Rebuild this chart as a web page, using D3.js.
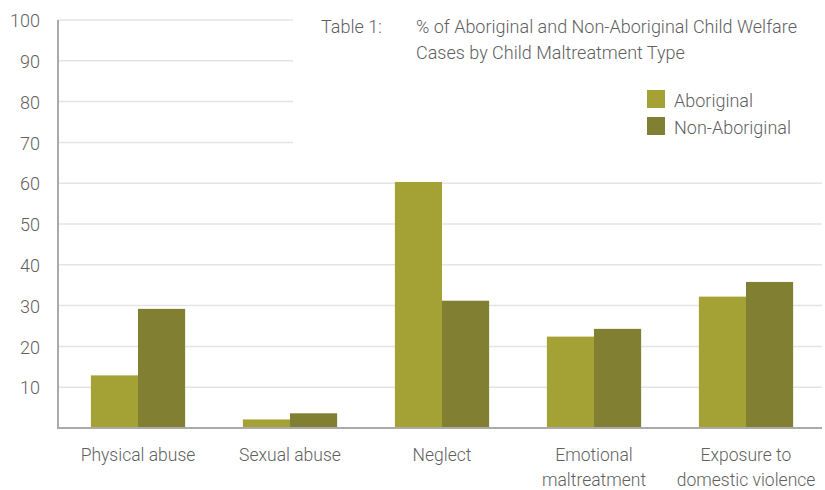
<!DOCTYPE html>
<html>
<head>
<meta charset="utf-8">
<script src="https://cdn.jsdelivr.net/npm/d3@7"></script>
<style>
  body { margin: 0; background: #fff; }
  svg text { font-family: Roboto, "Open Sans", sans-serif; font-weight: 300; fill: #5f5f5f; }
</style>
</head>
<body>
<div id="chart"></div>
<script>
const categories = [
  ["Physical abuse"],
  ["Sexual abuse"],
  ["Neglect"],
  ["Emotional", "maltreatment"],
  ["Exposure to", "domestic violence"]
];
const seriesNames = ["Aboriginal", "Non-Aboriginal"];
const aboriginal = [12.9, 2.1, 60.3, 22.4, 32.2];
const nonAboriginal = [29.2, 3.6, 31.2, 24.3, 35.8];
const yTicks = [10, 20, 30, 40, 50, 60, 70, 80, 90, 100];
const titleLabel = "Table 1:";
const titleLines = ["% of Aboriginal and Non-Aboriginal Child Welfare", "Cases by Child Maltreatment Type"];

const W = 825, H = 490;
const colors = { "Aboriginal": "#a5a235", "Non-Aboriginal": "#807f32" };

const svg = d3.select("#chart").append("svg")
  .attr("width", W).attr("height", H);

const plot = { left: 58, right: 822, top: 20, bottom: 428 };

const x0 = d3.scaleBand()
  .domain(d3.range(categories.length))
  .range([62, plot.right])
  .paddingInner(0.38)
  .paddingOuter(0.19);

const x1 = d3.scaleBand()
  .domain(seriesNames)
  .range([0, x0.bandwidth()]);

const y = d3.scaleLinear().domain([0, 100]).range([plot.bottom, plot.top]);

// gridlines
svg.append("g")
  .selectAll("line")
  .data(yTicks)
  .join("line")
  .attr("x1", plot.left).attr("x2", plot.right)
  .attr("y1", d => y(d)).attr("y2", d => y(d))
  .attr("stroke", "#e4e4e4")
  .attr("stroke-width", 1.5);

// title panel covers the top gridlines
svg.append("rect")
  .attr("x", 293).attr("y", 0)
  .attr("width", W - 293).attr("height", 162)
  .attr("fill", "#fff");

// y tick labels
svg.append("g")
  .selectAll("text")
  .data(yTicks)
  .join("text")
  .attr("x", 40)
  .attr("y", d => y(d))
  .attr("dy", "0.4em")
  .attr("text-anchor", "end")
  .attr("font-size", 18)
  .text(d => d);

// bars
const rows = categories.map((c, i) => ({ i, values: [aboriginal[i], nonAboriginal[i]] }));
const group = svg.append("g")
  .selectAll("g")
  .data(rows)
  .join("g")
  .attr("transform", d => `translate(${x0(d.i)},0)`);

group.selectAll("rect")
  .data(d => d.values.map((v, k) => ({ key: seriesNames[k], value: v })))
  .join("rect")
  .attr("x", d => x1(d.key))
  .attr("y", d => y(d.value))
  .attr("width", x1.bandwidth())
  .attr("height", d => y(0) - y(d.value))
  .attr("fill", d => colors[d.key]);

// axes lines
svg.append("line")
  .attr("x1", plot.left).attr("x2", plot.left)
  .attr("y1", plot.top).attr("y2", plot.bottom + 1)
  .attr("stroke", "#aaa").attr("stroke-width", 2);
svg.append("line")
  .attr("x1", plot.left - 1).attr("x2", plot.right)
  .attr("y1", plot.bottom).attr("y2", plot.bottom)
  .attr("stroke", "#aaa").attr("stroke-width", 2);

// category labels
const lab = svg.append("g")
  .selectAll("text")
  .data(categories)
  .join("text")
  .attr("text-anchor", "middle")
  .attr("font-size", 17.5)
  .attr("x", (d, i) => x0(i) + x0.bandwidth() / 2)
  .attr("y", 461);
lab.selectAll("tspan")
  .data(d => d)
  .join("tspan")
  .attr("x", function() { return d3.select(this.parentNode).attr("x"); })
  .attr("dy", (d, k) => k === 0 ? 0 : 25)
  .text(d => d);

// title
svg.append("text")
  .attr("x", 321).attr("y", 33)
  .attr("font-size", 18)
  .text(titleLabel);
svg.append("text")
  .attr("x", 416).attr("y", 33)
  .attr("font-size", 18)
  .selectAll("tspan")
  .data(titleLines)
  .join("tspan")
  .attr("x", 416)
  .attr("dy", (d, k) => k === 0 ? 0 : 26)
  .text(d => d);

// legend
const legend = svg.append("g")
  .attr("transform", "translate(647,90)")
  .selectAll("g")
  .data(seriesNames)
  .join("g")
  .attr("transform", (d, i) => `translate(0,${i * 27})`);
legend.append("rect")
  .attr("width", 18).attr("height", 18)
  .attr("fill", d => colors[d]);
legend.append("text")
  .attr("x", 27).attr("y", 10)
  .attr("dy", "0.38em")
  .attr("font-size", 18)
  .text(d => d);
</script>
</body>
</html>
